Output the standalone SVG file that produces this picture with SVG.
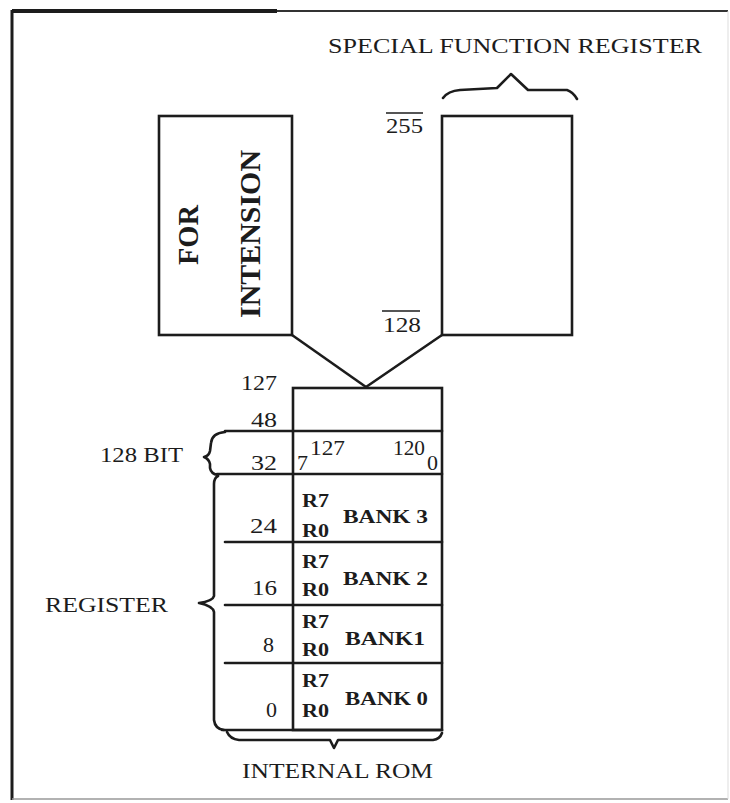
<svg xmlns="http://www.w3.org/2000/svg" width="730" height="803" viewBox="0 0 730 803">
<style>
.ln{stroke:#1c1c1c;stroke-width:2.6;fill:none;stroke-linecap:round;stroke-linejoin:round}
.box{stroke:#1c1c1c;stroke-width:2.6;fill:#fff}
.t{font-family:"Liberation Serif","Times New Roman",serif;fill:#1c1c1c;font-size:22px}
.b{font-family:"Liberation Serif","Times New Roman",serif;fill:#1c1c1c;font-weight:bold;font-size:18px}
.rot{font-family:"Liberation Serif","Times New Roman",serif;fill:#1c1c1c;font-weight:bold;font-size:29px}
</style>
<rect x="0" y="0" width="730" height="803" fill="#fff"/>
<g id="frame">
<line x1="12" y1="11" x2="277" y2="11" stroke="#1c1c1c" stroke-width="4"/>
<line x1="277" y1="11" x2="728" y2="11" stroke="#333" stroke-width="2"/>
<line x1="12" y1="10" x2="12" y2="800" stroke="#1c1c1c" stroke-width="3"/>
<line x1="12" y1="799" x2="728" y2="799" stroke="#999" stroke-width="1.5"/>
<line x1="728" y1="11" x2="728" y2="799" stroke="#ddd" stroke-width="1"/>
</g>
<g id="sfr">
<text class="t" x="328" y="53" textLength="374" lengthAdjust="spacingAndGlyphs">SPECIAL FUNCTION REGISTER</text>
<path class="ln" d="M443,98 Q448,91 460,90 L497,88 L511,74 L528,90 L567,90 Q573,92 577,99"/>
<rect class="box" x="442" y="116" width="130" height="219"/>
<text class="t" x="386" y="133" textLength="37" lengthAdjust="spacingAndGlyphs">255</text>
<line x1="386" y1="113" x2="423" y2="113" stroke="#1c1c1c" stroke-width="1.6"/>
<text class="t" x="383" y="332" textLength="38" lengthAdjust="spacingAndGlyphs">128</text>
<line x1="382" y1="311" x2="420" y2="311" stroke="#1c1c1c" stroke-width="1.6"/>
</g>
<g id="for-intension">
<rect class="box" x="159" y="116" width="133" height="219"/>
<text class="rot" transform="translate(198,265) rotate(-90)" textLength="60" lengthAdjust="spacingAndGlyphs">FOR</text>
<text class="rot" transform="translate(260,318) rotate(-90)" textLength="168" lengthAdjust="spacingAndGlyphs">INTENSION</text>
</g>
<g id="connectors">
<line class="ln" x1="292" y1="335" x2="366" y2="387"/>
<line class="ln" x1="442" y1="335" x2="366" y2="387"/>
</g>
<g id="internal-rom">
<rect class="box" x="293" y="388" width="149" height="342"/>
<line class="ln" x1="225" y1="431" x2="442" y2="431"/>
<line class="ln" x1="217" y1="474" x2="442" y2="474"/>
<line class="ln" x1="225" y1="542" x2="442" y2="542"/>
<line class="ln" x1="225" y1="605" x2="442" y2="605"/>
<line class="ln" x1="225" y1="663" x2="442" y2="663"/>
<line class="ln" x1="222" y1="730" x2="442" y2="730"/>
<text class="t" x="241" y="390" textLength="36" lengthAdjust="spacingAndGlyphs">127</text>
<text class="t" x="251" y="427" textLength="26" lengthAdjust="spacingAndGlyphs">48</text>
<text class="t" x="251" y="470" textLength="26" lengthAdjust="spacingAndGlyphs">32</text>
<text class="t" x="250" y="533" textLength="27" lengthAdjust="spacingAndGlyphs">24</text>
<text class="t" x="252" y="595" textLength="25" lengthAdjust="spacingAndGlyphs">16</text>
<text class="t" x="263" y="652">8</text>
<text class="t" x="266" y="717">0</text>
<text class="t" x="297" y="470" font-size="20">7</text>
<text class="t" x="310" y="455" font-size="21" textLength="35" lengthAdjust="spacingAndGlyphs">127</text>
<text class="t" x="393" y="455" font-size="21" textLength="32" lengthAdjust="spacingAndGlyphs">120</text>
<text class="t" x="427" y="470" font-size="20">0</text>
</g>
<g id="bank3">
<text class="b" x="302" y="507" textLength="27" lengthAdjust="spacingAndGlyphs">R7</text>
<text class="b" x="302" y="537" textLength="27" lengthAdjust="spacingAndGlyphs">R0</text>
<text class="b" x="343" y="523" textLength="85" lengthAdjust="spacingAndGlyphs">BANK 3</text>
</g>
<g id="bank2">
<text class="b" x="302" y="568" textLength="27" lengthAdjust="spacingAndGlyphs">R7</text>
<text class="b" x="302" y="596" textLength="27" lengthAdjust="spacingAndGlyphs">R0</text>
<text class="b" x="343" y="585" textLength="85" lengthAdjust="spacingAndGlyphs">BANK 2</text>
</g>
<g id="bank1">
<text class="b" x="302" y="628" textLength="27" lengthAdjust="spacingAndGlyphs">R7</text>
<text class="b" x="302" y="656" textLength="27" lengthAdjust="spacingAndGlyphs">R0</text>
<text class="b" x="345" y="645" textLength="80" lengthAdjust="spacingAndGlyphs">BANK1</text>
</g>
<g id="bank0">
<text class="b" x="302" y="687" textLength="27" lengthAdjust="spacingAndGlyphs">R7</text>
<text class="b" x="302" y="717" textLength="27" lengthAdjust="spacingAndGlyphs">R0</text>
<text class="b" x="345" y="705" textLength="83" lengthAdjust="spacingAndGlyphs">BANK 0</text>
</g>
<g id="bit-brace">
<path class="ln" d="M225,432 Q212,433 211,443 L210,451 Q209,456 204,457 Q209,459 210,464 L210,468 Q211,474 218,475"/>
<text class="t" x="100" y="462" font-size="23" textLength="83" lengthAdjust="spacingAndGlyphs">128 BIT</text>
</g>
<g id="register-brace">
<path class="ln" d="M218,476 Q214,478 214,484 L214,596 Q213,601 199,603 Q213,606 214,612 L214,720 Q215,729 224,730"/>
<text class="t" x="45" y="612" font-size="21" textLength="123" lengthAdjust="spacingAndGlyphs">REGISTER</text>
</g>
<g id="rom-brace">
<path class="ln" d="M227,732 Q230,739 239,740 L330,740 L334,748 L338,740 L433,740 Q440,739 442,733"/>
<text class="t" x="242" y="778" textLength="191" lengthAdjust="spacingAndGlyphs">INTERNAL ROM</text>
</g>
</svg>
